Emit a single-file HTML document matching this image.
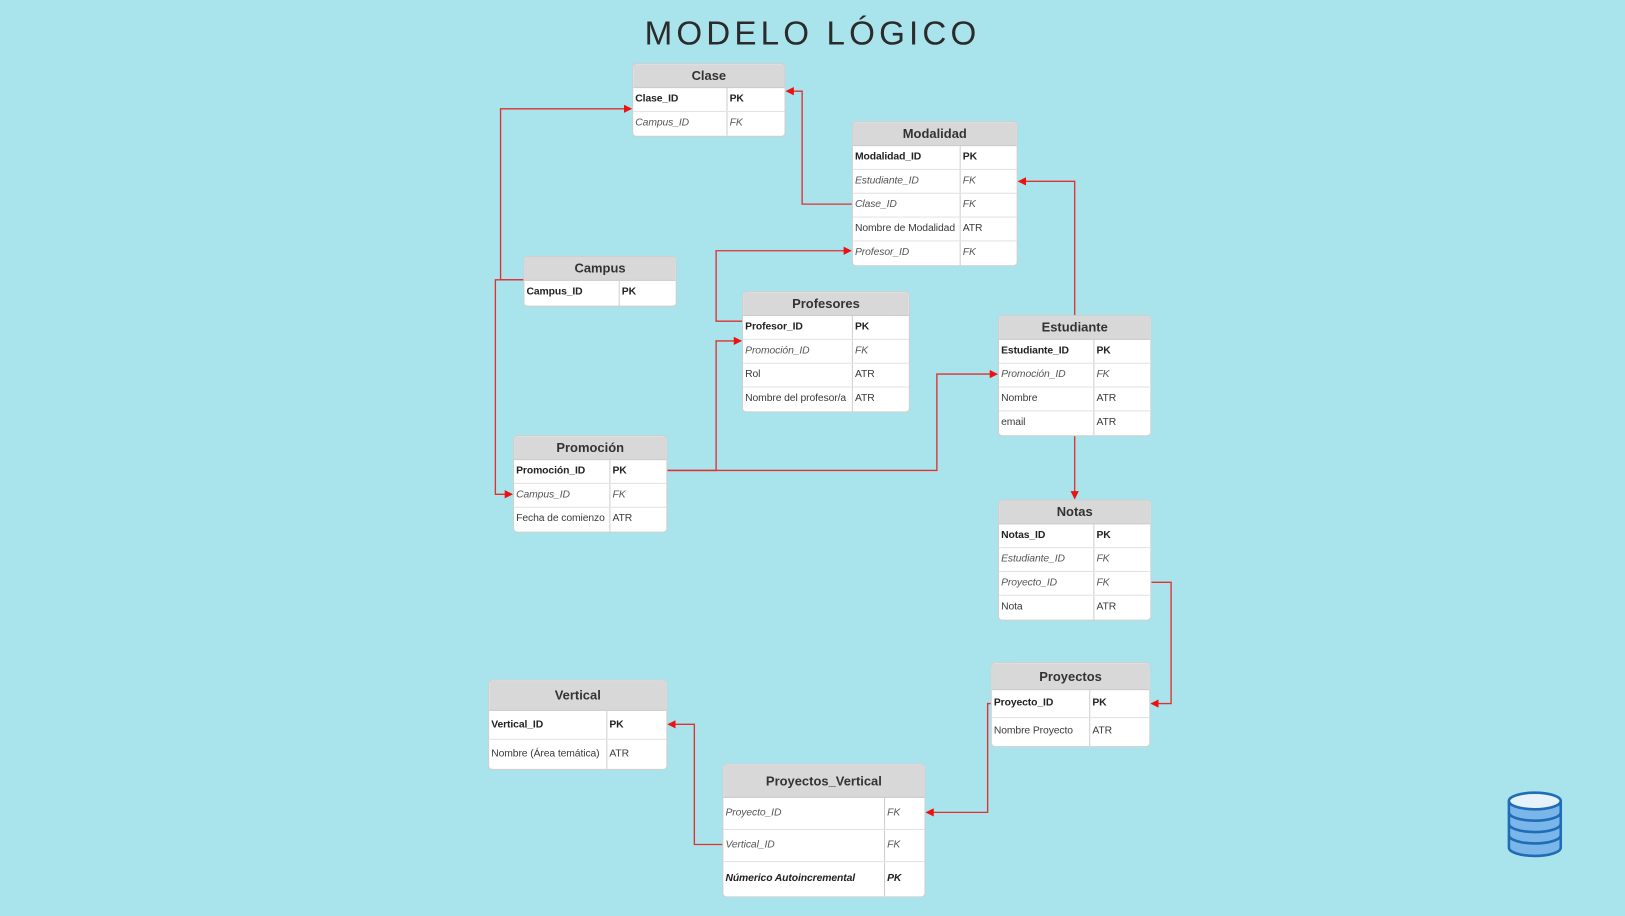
<!DOCTYPE html>
<html><head><meta charset="utf-8">
<style>
html,body{margin:0;padding:0;}
body{width:1625px;height:916px;overflow:hidden;background:#a9e4ec;}
#w{position:absolute;left:0;top:0;width:1568px;height:884px;transform:scale(1.03635,1.0362);transform-origin:0 0;font-family:"Liberation Sans",Arial,sans-serif;}
.title{position:absolute;left:0;width:1568px;top:14px;text-align:center;font-size:32px;letter-spacing:4px;color:#2b2b2b;font-weight:normal;}
.t{position:absolute;background:#fff;border:1px solid #cfcfcf;border-radius:4px;overflow:hidden;box-sizing:border-box;}
.h{background:#d8d8d8;text-align:center;font-weight:bold;font-size:12.5px;color:#333;box-sizing:border-box;border-bottom:1px solid #ccc;}
.r{display:flex;border-bottom:1.5px solid #e2e2e2;box-sizing:border-box;font-size:10px;color:#3a3a3a;letter-spacing:-0.1px;}
.r:last-child{border-bottom:none;}
.c1{border-right:1px solid #cfcfcf;padding-left:2px;box-sizing:border-box;white-space:nowrap;overflow:hidden;}
.c2{padding-left:2px;}
.b{font-weight:bold;color:#222;}
.i{font-style:italic;color:#555;}
svg{position:absolute;left:0;top:0;}
</style></head><body><div id="w">
<div class="title">MODELO LÓGICO</div>

<svg width="1568" height="884" viewBox="0 0 1568 884">
<defs><marker id="a" markerWidth="8" markerHeight="8" refX="7" refY="4" orient="auto" markerUnits="userSpaceOnUse"><path d="M0,0 L8,4 L0,8z" fill="#ee1111"/></marker></defs>
<g fill="none" stroke="#e03030" stroke-width="1.3" marker-end="url(#a)">
<path d="M505,270 H483 V105 H609"/>
<path d="M505,270 H478 V477 H494"/>
<path d="M822,197 H774 V88 H759"/>
<path d="M716,310 H691 V242 H821"/>
<path d="M644,454 H691 V329 H715"/>
<path d="M644,454 H904 V361 H962"/>
<path d="M1037,304 V175 H983"/>
<path d="M1037,419 V481"/>
<path d="M1111,562 H1130 V679 H1111"/>
<path d="M956,679 H953 V784 H894"/>
<path d="M697,815 H670 V699 H645"/>
</g>
<g>
<path d="M1456,773 V818 A25,8 0 0 0 1506,818 V773" fill="#7ab6ea" stroke="#1f6db5" stroke-width="2.5"/>
<path d="M1456,784 A25,8 0 0 0 1506,784 M1456,795 A25,8 0 0 0 1506,795 M1456,806 A25,8 0 0 0 1506,806" fill="none" stroke="#1f6db5" stroke-width="2.5"/>
<ellipse cx="1481" cy="773" rx="25" ry="8" fill="#e6f2fb" stroke="#1f6db5" stroke-width="2.5"/>
</g>
</svg>

<div class="t" style="left:610px;top:61px;width:148px;">
<div class="h" style="height:23px;line-height:23px;">Clase</div>
<div class="r" style="height:23px;line-height:22px;"><div class="c1 b" style="width:91px">Clase_ID</div><div class="c2 b">PK</div></div>
<div class="r" style="height:23px;line-height:22px;"><div class="c1 i" style="width:91px">Campus_ID</div><div class="c2 i">FK</div></div>
</div>

<div class="t" style="left:822px;top:117px;width:160px;">
<div class="h" style="height:23px;line-height:23px;">Modalidad</div>
<div class="r" style="height:23px;line-height:22px;"><div class="c1 b" style="width:104px">Modalidad_ID</div><div class="c2 b">PK</div></div>
<div class="r" style="height:23px;line-height:22px;"><div class="c1 i" style="width:104px">Estudiante_ID</div><div class="c2 i">FK</div></div>
<div class="r" style="height:23px;line-height:22px;"><div class="c1 i" style="width:104px">Clase_ID</div><div class="c2 i">FK</div></div>
<div class="r" style="height:23px;line-height:22px;"><div class="c1" style="width:104px">Nombre de Modalidad</div><div class="c2">ATR</div></div>
<div class="r" style="height:23px;line-height:22px;"><div class="c1 i" style="width:104px">Profesor_ID</div><div class="c2 i">FK</div></div>
</div>

<div class="t" style="left:505px;top:247px;width:148px;">
<div class="h" style="height:23px;line-height:23px;">Campus</div>
<div class="r" style="height:24px;line-height:22px;"><div class="c1 b" style="width:92px">Campus_ID</div><div class="c2 b">PK</div></div>
</div>

<div class="t" style="left:716px;top:281px;width:162px;">
<div class="h" style="height:23px;line-height:23px;">Profesores</div>
<div class="r" style="height:23px;line-height:22px;"><div class="c1 b" style="width:106px">Profesor_ID</div><div class="c2 b">PK</div></div>
<div class="r" style="height:23px;line-height:22px;"><div class="c1 i" style="width:106px">Promoción_ID</div><div class="c2 i">FK</div></div>
<div class="r" style="height:23px;line-height:22px;"><div class="c1" style="width:106px">Rol</div><div class="c2">ATR</div></div>
<div class="r" style="height:23px;line-height:22px;"><div class="c1" style="width:106px">Nombre del profesor/a</div><div class="c2">ATR</div></div>
</div>

<div class="t" style="left:963px;top:304px;width:148px;">
<div class="h" style="height:23px;line-height:23px;">Estudiante</div>
<div class="r" style="height:23px;line-height:22px;"><div class="c1 b" style="width:92px">Estudiante_ID</div><div class="c2 b">PK</div></div>
<div class="r" style="height:23px;line-height:22px;"><div class="c1 i" style="width:92px">Promoción_ID</div><div class="c2 i">FK</div></div>
<div class="r" style="height:23px;line-height:22px;"><div class="c1" style="width:92px">Nombre</div><div class="c2">ATR</div></div>
<div class="r" style="height:23px;line-height:22px;"><div class="c1" style="width:92px">email</div><div class="c2">ATR</div></div>
</div>

<div class="t" style="left:495px;top:420px;width:149px;">
<div class="h" style="height:23px;line-height:23px;">Promoción</div>
<div class="r" style="height:23px;line-height:22px;"><div class="c1 b" style="width:93px">Promoción_ID</div><div class="c2 b">PK</div></div>
<div class="r" style="height:23px;line-height:22px;"><div class="c1 i" style="width:93px">Campus_ID</div><div class="c2 i">FK</div></div>
<div class="r" style="height:23px;line-height:22px;"><div class="c1" style="width:93px">Fecha de comienzo</div><div class="c2">ATR</div></div>
</div>

<div class="t" style="left:963px;top:482px;width:148px;">
<div class="h" style="height:23px;line-height:23px;">Notas</div>
<div class="r" style="height:23px;line-height:22px;"><div class="c1 b" style="width:92px">Notas_ID</div><div class="c2 b">PK</div></div>
<div class="r" style="height:23px;line-height:22px;"><div class="c1 i" style="width:92px">Estudiante_ID</div><div class="c2 i">FK</div></div>
<div class="r" style="height:23px;line-height:22px;"><div class="c1 i" style="width:92px">Proyecto_ID</div><div class="c2 i">FK</div></div>
<div class="r" style="height:23px;line-height:22px;"><div class="c1" style="width:92px">Nota</div><div class="c2">ATR</div></div>
</div>

<div class="t" style="left:956px;top:639px;width:154px;">
<div class="h" style="height:26px;line-height:26px;">Proyectos</div>
<div class="r" style="height:27px;line-height:26px;"><div class="c1 b" style="width:95px">Proyecto_ID</div><div class="c2 b">PK</div></div>
<div class="r" style="height:27px;line-height:26px;"><div class="c1" style="width:95px">Nombre Proyecto</div><div class="c2">ATR</div></div>
</div>

<div class="t" style="left:471px;top:656px;width:173px;">
<div class="h" style="height:29px;line-height:29px;">Vertical</div>
<div class="r" style="height:28px;line-height:27px;"><div class="c1 b" style="width:114px">Vertical_ID</div><div class="c2 b">PK</div></div>
<div class="r" style="height:28px;line-height:27px;"><div class="c1" style="width:114px">Nombre (Área temática)</div><div class="c2">ATR</div></div>
</div>

<div class="t" style="left:697px;top:737px;width:196px;">
<div class="h" style="height:32px;line-height:32px;">Proyectos_Vertical</div>
<div class="r" style="height:31px;line-height:30px;"><div class="c1 i" style="width:156px">Proyecto_ID</div><div class="c2 i">FK</div></div>
<div class="r" style="height:31px;line-height:30px;"><div class="c1 i" style="width:156px">Vertical_ID</div><div class="c2 i">FK</div></div>
<div class="r" style="height:33px;line-height:32px;"><div class="c1 b i" style="width:156px;color:#222">Númerico Autoincremental</div><div class="c2 b i" style="color:#222">PK</div></div>
</div>

</div></body></html>
